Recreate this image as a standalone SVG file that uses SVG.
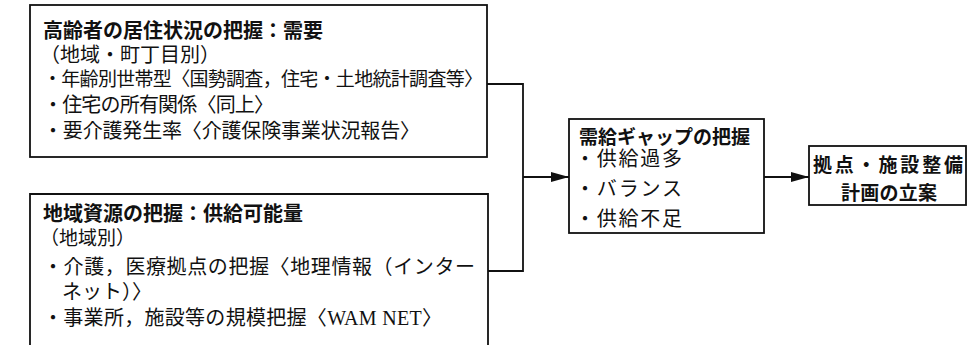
<svg xmlns="http://www.w3.org/2000/svg" width="970" height="345" viewBox="0 0 970 345">
<style>
.box{fill:#fff;stroke:#111;stroke-width:1.8}
.con{fill:none;stroke:#111;stroke-width:1.8}
.t{font-family:"Noto Sans CJK JP","Noto Sans",sans-serif;font-weight:bold;fill:#111}
.b{font-family:"Liberation Serif","Noto Sans CJK JP",serif;fill:#111;font-size:20px}
</style>
<defs>
<marker id="ah" markerWidth="18" markerHeight="10" refX="18" refY="5" orient="auto" markerUnits="userSpaceOnUse">
<path d="M0,0 L18,5 L0,10 Z" fill="#111"/>
</marker>
</defs>
<rect width="970" height="345" fill="#fff"/>
<g id="connectors">
<path class="con" d="M487,84 H523 V271 H488"/>
<path class="con" d="M523,177 H569" marker-end="url(#ah)"/>
<path class="con" d="M764,177 H809" marker-end="url(#ah)"/>
</g>
<g id="demand">
<rect class="box" x="30" y="5" width="457" height="152"/>
<text class="t" x="43" y="38" font-size="20">高齢者の居住状況の把握：需要</text>
<text class="b" x="40" y="62" font-size="19">（地域・町丁目別）</text>
<text class="b" x="43" y="86" style="font-size:19px" textLength="440">・年齢別世帯型〈国勢調査，住宅・土地統計調査等〉</text>
<text class="b" x="43" y="112" textLength="231">・住宅の所有関係〈同上〉</text>
<text class="b" x="43" y="138" textLength="377">・要介護発生率〈介護保険事業状況報告〉</text>
</g>
<g id="supply">
<path class="box" d="M30,346 V194 H488 V346"/>
<text class="t" x="43" y="221" font-size="20">地域資源の把握：供給可能量</text>
<text class="b" x="40" y="245" style="font-size:19px">（地域別）</text>
<text class="b" x="43" y="274" textLength="432">・介護，医療拠点の把握〈地理情報（インター</text>
<text class="b" x="62" y="299" textLength="90">ネット）〉</text>
<text class="b" x="43" y="325" textLength="399">・事業所，施設等の規模把握〈WAM NET〉</text>
</g>
<g id="gap">
<rect class="box" x="569" y="119" width="195" height="114"/>
<text class="t" x="579" y="144" font-size="19">需給ギャップの把握</text>
<text class="b" x="575" y="166" textLength="107">・供給過多</text>
<text class="b" x="575" y="196" textLength="107">・バランス</text>
<text class="b" x="575" y="226" textLength="107">・供給不足</text>
</g>
<g id="plan">
<rect class="box" x="809" y="146" width="157" height="59"/>
<text class="t" x="888" y="172" font-size="19" text-anchor="middle" textLength="150">拠点・施設整備</text>
<text class="t" x="889" y="200" font-size="19" text-anchor="middle" textLength="96">計画の立案</text>
</g>
</svg>
